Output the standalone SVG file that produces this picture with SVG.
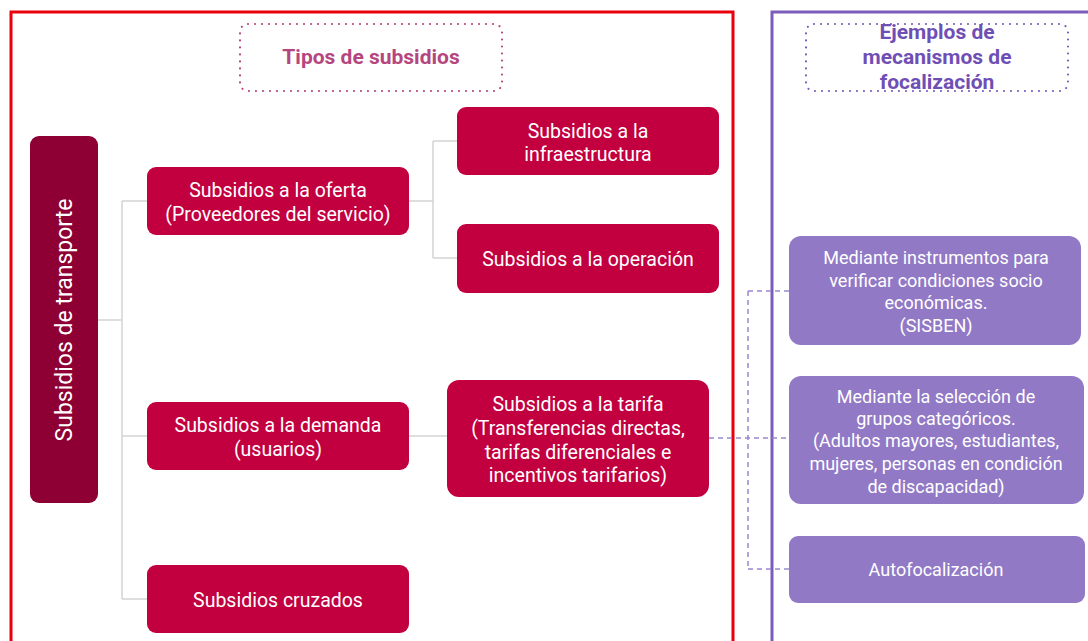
<svg xmlns="http://www.w3.org/2000/svg" width="1088" height="641" viewBox="0 0 1088 641">
<style>
.red{fill:#c2003f;}
.dark{fill:#8e0033;}
.pur{fill:#9179c6;}
.t{font-family:Roboto,"Liberation Sans",sans-serif;font-size:19.5px;fill:#ffffff;text-anchor:middle;}
.tp{font-family:Roboto,"Liberation Sans",sans-serif;font-size:18px;fill:#ffffff;text-anchor:middle;}
.conn{stroke:#d4d4d4;stroke-width:1.5;fill:none;}
.dash{stroke:#9a86d0;stroke-width:1.5;fill:none;stroke-dasharray:5 4;}
</style>
<rect width="1088" height="641" fill="#ffffff"/>
<g id="frames">
<path d="M11 645 V12 H733 V645" fill="none" stroke="#e8000d" stroke-width="3"/>
<path d="M772 645 V12 H1092" fill="none" stroke="#7a5cbb" stroke-width="3"/>
</g>
<g id="title-tipos">
<rect x="240" y="24" width="262" height="67" rx="8" fill="none" stroke="#b5467e" stroke-width="2.2" stroke-dasharray="0 7" stroke-linecap="round"/>
<text x="371" y="64" font-family="Roboto,'Liberation Sans',sans-serif" font-size="21" font-weight="bold" fill="#b5467e" text-anchor="middle">Tipos de subsidios</text>
</g>
<g id="title-ejemplos">
<rect x="806" y="24" width="262" height="67" rx="8" fill="none" stroke="#7a5cbb" stroke-width="2.2" stroke-dasharray="0 7" stroke-linecap="round"/>
<text font-family="Roboto,'Liberation Sans',sans-serif" font-size="21" font-weight="bold" fill="#6f4fb5" text-anchor="middle"><tspan x="937" y="39">Ejemplos de</tspan><tspan x="937" y="64">mecanismos de</tspan><tspan x="937" y="89">focalización</tspan></text>
</g>
<g id="connectors">
<path class="conn" d="M98 320 H122 M122 201 V599 M122 201 H147 M122 436 H147 M122 599 H147"/>
<path class="conn" d="M409 201 H433 M433 141 V258 M433 141 H457 M433 258 H457"/>
<path class="conn" d="M409 436 H447"/>
<path class="dash" d="M709 438 H789 M748 291 V569 M748 291 H789 M748 569 H789"/>
</g>
<g id="n-transporte">
<rect class="dark" x="30" y="136" width="68" height="367" rx="9"/>
<text class="t" transform="translate(72 320) rotate(-90)" style="font-size:23px">Subsidios de transporte</text>
</g>
<g id="n-oferta">
<rect class="red" x="147" y="167" width="262" height="68" rx="9"/>
<text class="t"><tspan x="278" y="197">Subsidios a la oferta</tspan><tspan x="278" y="221">(Proveedores del servicio)</tspan></text>
</g>
<g id="n-infra">
<rect class="red" x="457" y="107" width="262" height="68" rx="9"/>
<text class="t"><tspan x="588" y="138">Subsidios a la</tspan><tspan x="588" y="161">infraestructura</tspan></text>
</g>
<g id="n-operacion">
<rect class="red" x="457" y="224" width="262" height="69" rx="9"/>
<text class="t" x="588" y="266">Subsidios a la operación</text>
</g>
<g id="n-demanda">
<rect class="red" x="147" y="402" width="262" height="68" rx="9"/>
<text class="t"><tspan x="278" y="432">Subsidios a la demanda</tspan><tspan x="278" y="456">(usuarios)</tspan></text>
</g>
<g id="n-tarifa">
<rect class="red" x="447" y="380" width="262" height="117" rx="12"/>
<text class="t"><tspan x="578" y="411">Subsidios a la tarifa</tspan><tspan x="578" y="435">(Transferencias directas,</tspan><tspan x="578" y="459">tarifas diferenciales e</tspan><tspan x="578" y="482">incentivos tarifarios)</tspan></text>
</g>
<g id="n-cruzados">
<rect class="red" x="147" y="565" width="262" height="68" rx="9"/>
<text class="t" x="278" y="607">Subsidios cruzados</text>
</g>
<g id="n-sisben">
<rect class="pur" x="789" y="236" width="292" height="109" rx="12"/>
<text class="tp"><tspan x="936" y="264">Mediante instrumentos para</tspan><tspan x="936" y="287">verificar condiciones socio</tspan><tspan x="936" y="309">económicas.</tspan><tspan x="936" y="332">(SISBEN)</tspan></text>
</g>
<g id="n-categoricos">
<rect class="pur" x="789" y="376" width="295" height="128" rx="12"/>
<text class="tp"><tspan x="936" y="403">Mediante la selección de</tspan><tspan x="936" y="425">grupos categóricos.</tspan><tspan x="936" y="447">(Adultos mayores, estudiantes,</tspan><tspan x="936" y="470">mujeres, personas en condición</tspan><tspan x="936" y="493">de discapacidad)</tspan></text>
</g>
<g id="n-auto">
<rect class="pur" x="789" y="536" width="296" height="67" rx="9"/>
<text class="tp" x="936" y="576">Autofocalización</text>
</g>
</svg>
